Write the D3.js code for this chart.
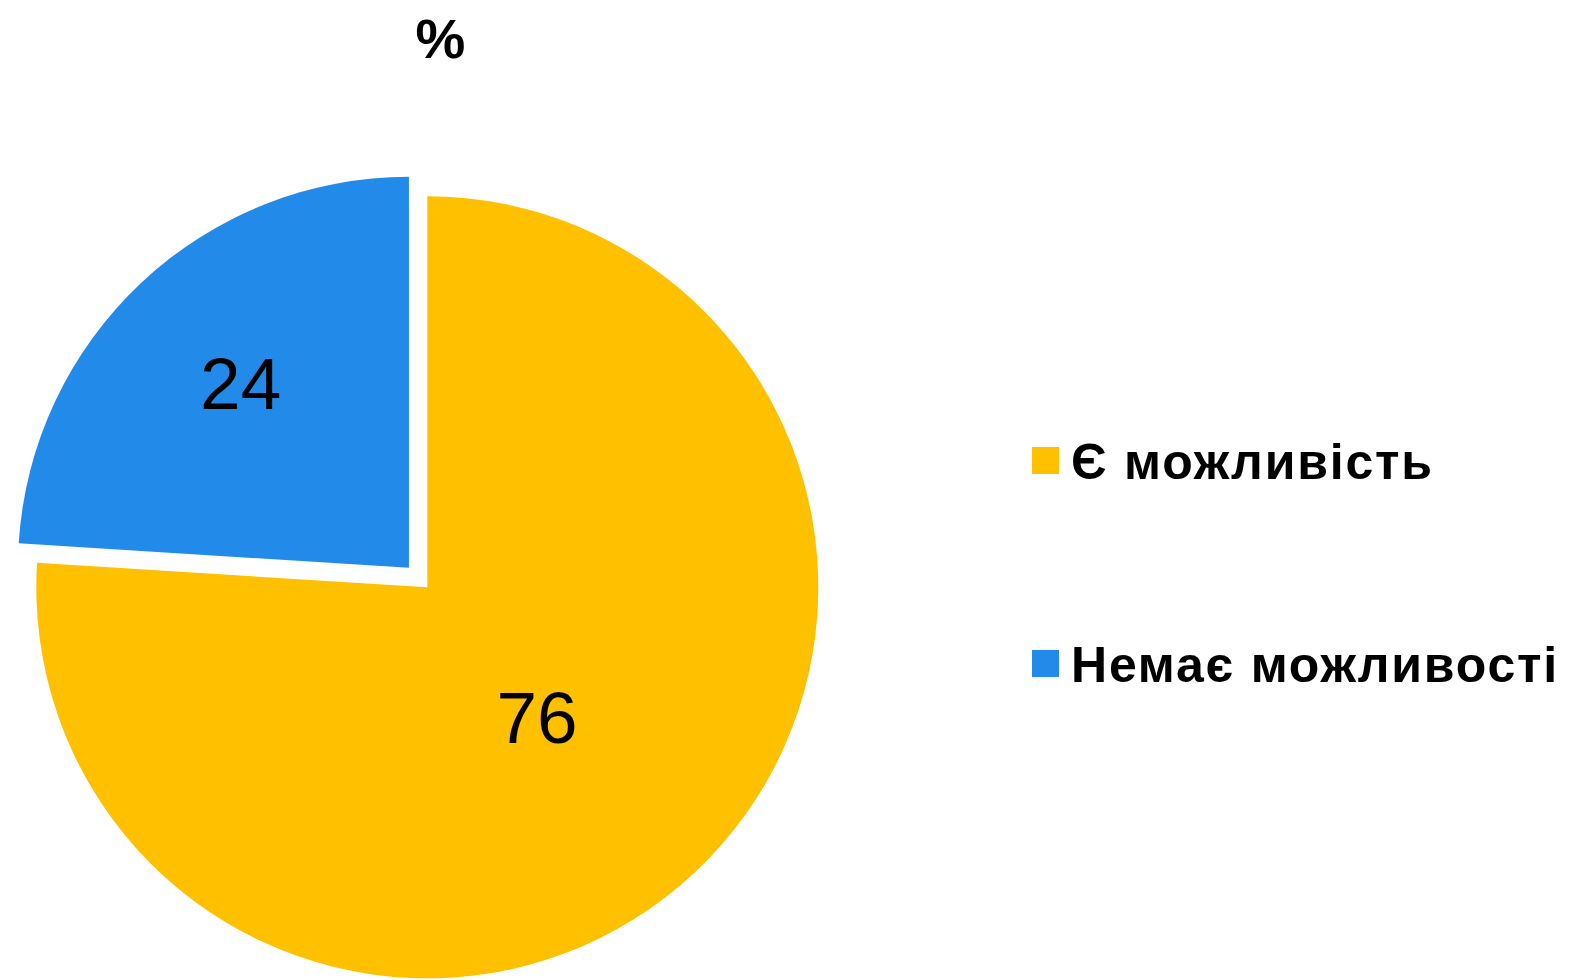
<!DOCTYPE html>
<html>
<head>
<meta charset="utf-8">
<script src="https://cdn.jsdelivr.net/npm/d3@7"></script>
<style>
  body { margin: 0; background: #fff; }
  svg text { font-family: "Liberation Sans", Arial, sans-serif; }
</style>
</head>
<body>
<script>
// data
const categories = ['Є можливість', 'Немає можливості']
const values = [76, 24]
const colors = ['#FFC000', '#228AE8']
const exploded = [false, true]
const title = '%'

const W = 1578
const H = 980
const cx = 427.3
const cy = 587.3
const R = 391
const explodeDist = 26.8
// value label placement: fraction of radius, and small turn off the bisector (deg)
const labelFrac = [0.434, 0.639]
const labelTurn = [2.9, 0.85]

const rows = categories.map((c, i) => ({
  name: c,
  value: values[i],
  color: colors[i],
  exploded: exploded[i],
  labelFrac: labelFrac[i],
  labelTurn: labelTurn[i]
}))

const svg = d3.select('body')
  .append('svg')
  .attr('width', W)
  .attr('height', H)

svg.append('text')
  .attr('x', 440.5)
  .attr('y', 58)
  .attr('text-anchor', 'middle')
  .attr('font-size', 56)
  .attr('font-weight', 'bold')
  .text(title)

const pie = d3.pie().sort(null).value(d => d.value)
const arc = d3.arc().innerRadius(0).outerRadius(R)

const plot = svg.append('g')
  .attr('class', 'plot')
  .attr('transform', `translate(${cx}, ${cy})`)

const slices = plot.selectAll('.slice')
  .data(pie(rows))
  .enter()
  .append('g')
  .attr('class', 'slice')
  .attr('transform', d => {
    if (!d.data.exploded) return null
    const mid = (d.startAngle + d.endAngle) / 2
    return `translate(${Math.sin(mid) * explodeDist}, ${-Math.cos(mid) * explodeDist})`
  })

slices.append('path')
  .attr('d', arc)
  .attr('fill', d => d.data.color)

slices.append('text')
  .attr('transform', d => {
    const a = (d.startAngle + d.endAngle) / 2 + d.data.labelTurn * Math.PI / 180
    const lr = R * d.data.labelFrac
    return `translate(${Math.sin(a) * lr}, ${-Math.cos(a) * lr})`
  })
  .attr('text-anchor', 'middle')
  .attr('dy', '0.358em')
  .attr('font-size', 73)
  .attr('fill', '#000')
  .text(d => d.data.value)

// legend
const legend = svg.append('g')
  .attr('class', 'legend')
  .attr('transform', 'translate(1032, 447)')

const item = legend.selectAll('.item')
  .data(rows)
  .enter()
  .append('g')
  .attr('class', 'item')
  .attr('transform', (d, i) => `translate(0, ${i * 203})`)

item.append('rect')
  .attr('width', 27)
  .attr('height', 27)
  .attr('fill', d => d.color)

item.append('text')
  .attr('x', 39)
  .attr('y', 32)
  .attr('font-size', 50)
  .attr('font-weight', 'bold')
  .attr('letter-spacing', 1.8)
  .text(d => d.name)
</script>
</body>
</html>
